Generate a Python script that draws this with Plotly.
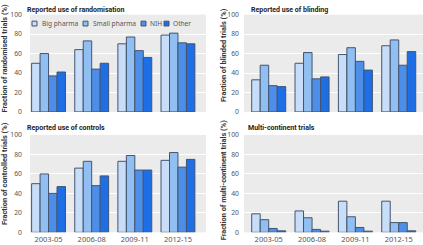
import plotly.graph_objects as go

periods = ["2003-05", "2006-08", "2009-11", "2012-15"]
groups = ["Big pharma", "Small pharma", "NIH", "Other"]
colors = ["#c8ddf7", "#92bff2", "#4d8fe8", "#1e6ee6"]

randomisation = {
    "Big pharma": [50, 64, 70, 79],
    "Small pharma": [60, 73, 77, 81],
    "NIH": [37, 44, 63, 71],
    "Other": [41, 50, 56, 70],
}
blinding = {
    "Big pharma": [33, 50, 59, 68],
    "Small pharma": [48, 61, 66, 74],
    "NIH": [27, 34, 52, 48],
    "Other": [26, 36, 43, 62],
}
controls = {
    "Big pharma": [50, 66, 73, 74],
    "Small pharma": [60, 73, 79, 82],
    "NIH": [40, 48, 64, 67],
    "Other": [47, 58, 64, 75],
}
multicontinent = {
    "Big pharma": [19, 22, 32, 32],
    "Small pharma": [13, 15, 16, 10],
    "NIH": [4, 3, 5, 10],
    "Other": [1.5, 1.2, 1.2, 1.5],
}

panels = [
    ("Reported use of randomisation", "Fraction of randomised trials (%)", randomisation),
    ("Reported use of blinding", "Fraction of blinded trials (%)", blinding),
    ("Reported use of controls", "Fraction of controlled trials (%)", controls),
    ("Multi-continent trials", "Fraction of multi-continent trials (%)", multicontinent),
]

W, H = 423, 245
FONT = "Noto Sans"
TFONT = "Roboto"
OUTLINE = "#44546e"
# plot areas in pixels: (x0, x1, ytop, ybottom)
areas = [(30, 206, 10, 111), (244, 423, 10, 111), (30, 206, 135, 236), (244, 423, 135, 236)]
ranges = [[-0.43, 3.65], [-0.57, 3.56], [-0.43, 3.65], [-0.57, 3.56]]
standoff = [7, 4, 7, 4]
title_pos = [(25, 4.7), (249, 4.7), (25, 127.3), (246, 127.3)]
ytitle_pos = [(4.5, 55), (223, 52), (4.5, 175), (223, 182)]
# legend layout (pixels): square left edges, text left edges, vertical centre
leg_sq_x = [32, 83, 141, 164]
leg_tx_x = [40, 91, 148, 171]
leg_y = 19.3

fig = go.Figure()
layout = dict(
    width=W, height=H, margin=dict(l=0, r=0, t=0, b=0),
    paper_bgcolor="white", plot_bgcolor="#ebebeb",
    barmode="group", bargap=0.215, bargroupgap=0,
    font=dict(family=FONT, size=8, color="#555555"),
    showlegend=False,
    annotations=[], shapes=[],
)

for i, (title, ytitle, data) in enumerate(panels):
    x0, x1, yt, yb = areas[i]
    ax = "" if i == 0 else str(i + 1)
    for j, g in enumerate(groups):
        fig.add_trace(go.Bar(
            x=periods, y=data[g], name=g,
            marker=dict(color=colors[j], line=dict(color=OUTLINE, width=1)),
            xaxis="x" + ax, yaxis="y" + ax,
        ))
    layout["xaxis" + ax] = dict(
        type="category",
        domain=[x0 / W, x1 / W], anchor="y" + ax, range=ranges[i],
        showgrid=False, zeroline=False, showline=False,
        showticklabels=(i >= 2), ticks="", ticklabelstandoff=1,
        tickfont=dict(family=FONT, size=7.5, color="#555555"), fixedrange=True,
    )
    layout["yaxis" + ax] = dict(
        domain=[1 - yb / H, 1 - yt / H], anchor="x" + ax, range=[0, 100],
        tickvals=[0, 20, 40, 60, 80, 100], gridcolor="white", gridwidth=1,
        zeroline=False, showline=False, ticks="",
        tickfont=dict(family=FONT, size=6.8, color="#555555"),
        ticklabelstandoff=standoff[i], fixedrange=True,
    )
    layout["annotations"].append(dict(
        text="<b>" + title + "</b>", x=title_pos[i][0] / W, y=1 - title_pos[i][1] / H,
        xref="paper", yref="paper", xanchor="left", yanchor="middle", showarrow=False,
        font=dict(family=TFONT, size=7, color="#222222"),
    ))
    layout["annotations"].append(dict(
        text="<b>" + ytitle + "</b>", x=ytitle_pos[i][0] / W, y=1 - ytitle_pos[i][1] / H,
        xref="paper", yref="paper", xanchor="center", yanchor="middle", showarrow=False,
        textangle=-90, font=dict(family=TFONT, size=7.4, color="#333333"),
    ))

# legend (top-left panel)
for j, g in enumerate(groups):
    sx = leg_sq_x[j]
    layout["shapes"].append(dict(
        type="rect", xref="paper", yref="paper",
        x0=sx / W, x1=(sx + 5) / W, y0=1 - (leg_y + 2.5) / H, y1=1 - (leg_y - 2.5) / H,
        fillcolor=colors[j], line=dict(color=OUTLINE, width=1),
    ))
    layout["annotations"].append(dict(
        text=g, x=leg_tx_x[j] / W, y=1 - leg_y / H, xref="paper", yref="paper",
        xanchor="left", yanchor="middle", showarrow=False,
        font=dict(family=FONT, size=6.6, color="#555555"),
    ))

fig.update_layout(**layout)
fig.write_html("out.html", config={"displayModeBar": False},
               post_script="document.body.style.margin='0px';")
